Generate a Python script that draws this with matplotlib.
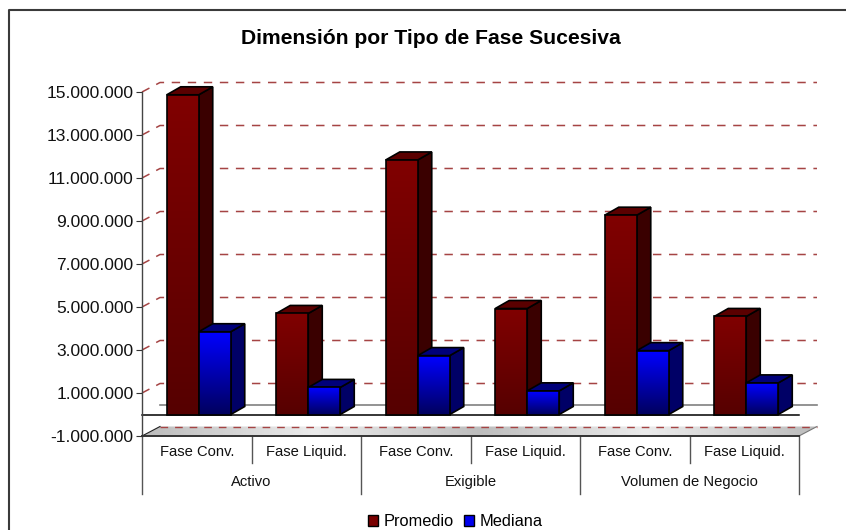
import numpy as np
import matplotlib
matplotlib.use("Agg")
import matplotlib.pyplot as plt
from matplotlib.patches import Polygon, Patch
from matplotlib.lines import Line2D
from matplotlib.colors import LinearSegmentedColormap

plt.rcParams['font.family'] = ['Liberation Sans', 'DejaVu Sans']

title = "Dimensión por Tipo de Fase Sucesiva"
phases = ["Fase Conv.", "Fase Liquid."] * 3
groups = ["Activo", "Exigible", "Volumen de Negocio"]
promedio = [14870000, 4700000, 11840000, 4930000, 9270000, 4560000]
mediana = [3850000, 1260000, 2740000, 1100000, 2970000, 1470000]
yticks = [-1000000, 1000000, 3000000, 5000000, 7000000, 9000000, 11000000, 13000000, 15000000]

W, H = 846, 530
L, R, T, B = 142, 799, 92, 436
fig = plt.figure(figsize=(W/100, H/100), dpi=100)
ax = fig.add_axes([L/W, 1-B/H, (R-L)/W, (B-T)/H])
ymin, ymax = -1e6, 15e6
PX = 6/(R-L)
PY = (ymax-ymin)/(B-T)
DX, DY = 18*PX, 9.5*PY
BX, BY = 14*PX, 8*PY
bw = 32*PX
off = 2.0*PX

def grad(x0, x1, y0, y1, colors, clip, horizontal=False, z=3):
    cmap = LinearSegmentedColormap.from_list('c', colors)
    g = np.linspace(0, 1, 64)
    g = g.reshape(1, -1) if horizontal else g.reshape(-1, 1)
    im = ax.imshow(g, extent=[x0, x1, y0, y1], origin='lower', aspect='auto', cmap=cmap, zorder=z, interpolation='bilinear')
    im.set_clip_box(fig.bbox)
    im.set_clip_path(clip)

# grid
gridc = '#a54444'
for v in yticks[1:]:
    ax.plot([0, DX, 6+DX], [v, v+DY, v+DY], color=gridc, lw=1.1, ls=(0, (5.5, 5)), clip_on=False, zorder=1)
# back zero line
ax.plot([DX, 6+DX], [DY, DY], color='#808080', lw=1.2, clip_on=False, zorder=1.5)
# floor
floor = Polygon([(0, ymin), (DX, ymin+DY), (6+DX, ymin+DY), (6, ymin)], closed=True, fc='none', ec='none', clip_on=False, zorder=1.6)
ax.add_patch(floor)
cm_floor = ['#bdbdbd', '#ececec', '#bdbdbd', '#ececec', '#bdbdbd']
grad(0, 6+DX, ymin, ymin+DY, cm_floor, floor, horizontal=True, z=1.7)
ax.plot([DX, 6+DX], [ymin+DY]*2, color=gridc, lw=1.0, ls=(0, (5.5, 5)), clip_on=False, zorder=1.8)
ax.plot([6, 6+DX], [ymin, ymin+DY], color='#777777', lw=0.8, clip_on=False, zorder=1.8)
ax.plot([0, DX], [ymin, ymin+DY], color='#222222', lw=0.8, clip_on=False, zorder=1.8)

def bar3d(x0, v, colors, side, top, z):
    x1 = x0 + bw
    s = Polygon([(x1, 0), (x1+BX, BY), (x1+BX, v+BY), (x1, v)], closed=True, fc=side, ec='black', lw=1.2, zorder=z, clip_on=False)
    t = Polygon([(x0, v), (x0+BX, v+BY), (x1+BX, v+BY), (x1, v)], closed=True, fc=top, ec='black', lw=1.2, zorder=z, clip_on=False)
    ax.add_patch(s)
    ax.add_patch(t)
    r = ax.bar(x0, v, width=bw, align='edge', color=colors[1], ec='none', zorder=z+0.1, clip_on=False)[0]
    grad(x0, x1, 0, v, colors, r, z=z+0.2)
    ax.bar(x0, v, width=bw, align='edge', color='none', ec='black', lw=1.2, zorder=z+0.3, clip_on=False)

for i in range(6):
    c = i + 0.5 + off
    bar3d(c - bw, promedio[i], ['#560000', '#800000'], '#3a0000', '#5a0000', 3+i)
    bar3d(c, mediana[i], ['#00005e', '#0000ff'], '#000066', '#00007a', 3.5+i)

# front zero line
ax.plot([0, 6], [0, 0], color='black', lw=1.1, zorder=2, clip_on=False)

ax.set_xlim(0, 6)
ax.set_ylim(ymin, ymax)
ax.patch.set_alpha(0)
for s in ['top', 'right']:
    ax.spines[s].set_visible(False)
ax.spines['left'].set_color('#444444')
ax.spines['left'].set_linewidth(1.0)
ax.spines['bottom'].set_color('#333333')
ax.spines['bottom'].set_linewidth(1.4)
ax.set_xticks([])
ax.set_yticks(yticks)
ax.set_yticklabels([f"{v:,}".replace(",", ".") for v in yticks], fontsize=12.5, color='#111111')
ax.tick_params(axis='y', length=4, width=0.8, pad=2, color='#333333')

# category separators
for i in range(7):
    depth = 58 if i % 2 == 0 else 27
    ax.plot([i, i], [ymin, ymin-depth*PY], color='#555555', lw=1.0, clip_on=False, zorder=2)
for i, lab in enumerate(phases):
    ax.annotate(lab, xy=(i+0.5, ymin), xytext=(0, -16), textcoords='offset pixels', ha='center', va='center', fontsize=10.6, color='#111111', annotation_clip=False)
for i, lab in enumerate(groups):
    ax.annotate(lab, xy=(2*i+1, ymin), xytext=(0, -46), textcoords='offset pixels', ha='center', va='center', fontsize=10.6, color='#111111', annotation_clip=False)

fig.text(431/W, 1-38.5/H, title, ha='center', va='center', fontsize=15.2, fontweight='bold', color='black')

# outer frame
fig.add_artist(Line2D([9/W, 9/W, 1], [0, 1-10/H, 1-10/H], color='#3a3a3a', lw=1.5, transform=fig.transFigure))

fig.legend(handles=[Patch(fc='#7a0000', ec='black', lw=1, label='Promedio'), Patch(fc='#0000ee', ec='black', lw=1, label='Mediana')],
           loc='center', bbox_to_anchor=(455/W, 1-521.5/H), ncol=2, frameon=False, fontsize=11.8,
           handlelength=0.62, handleheight=0.62, handletextpad=0.35, columnspacing=0.6, borderpad=0, labelspacing=0)

fig.savefig("out.png", dpi=100)
